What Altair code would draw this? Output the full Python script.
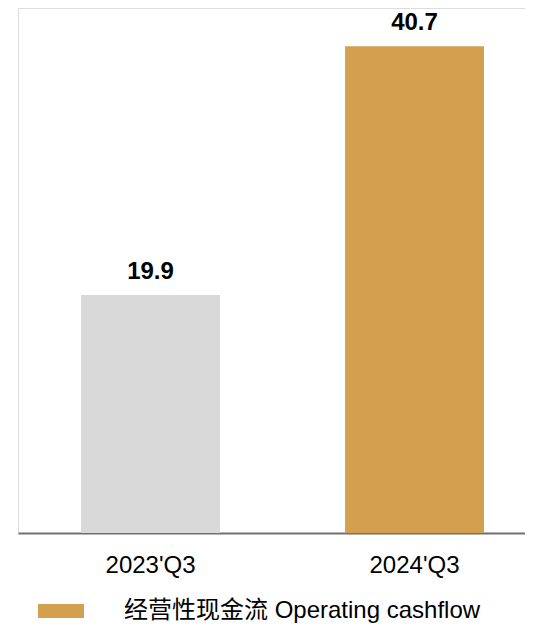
import altair as alt
import pandas as pd

categories = ["2023'Q3", "2024'Q3"]
values = [19.9, 40.7]
series = ["上年同期", "经营性现金流 Operating cashflow"]
legend_label = "经营性现金流 Operating cashflow"

df = pd.DataFrame({"period": categories, "value": values, "series": series})

FONT = "Liberation Sans, Arial, Noto Sans CJK SC"

x = alt.X(
    "period:N",
    sort=categories,
    title=None,
    scale=alt.Scale(paddingInner=0.4735, paddingOuter=0.197, align=0.606),
    axis=alt.Axis(
        labelAngle=0,
        labelFont=FONT,
        labelFontSize=24,
        labelColor="#000000",
        labelBaseline="alphabetic",
        labelPadding=39,
        ticks=False,
        tickSize=0,
        domainColor="#707070",
        domainWidth=2,
        grid=False,
    ),
)
y = alt.Y(
    "value:Q",
    title=None,
    scale=alt.Scale(domain=[0, 43.9], nice=False, zero=True),
    axis=None,
)

bars = alt.Chart(df).mark_bar().encode(
    x=x,
    y=y,
    color=alt.Color(
        "series:N",
        scale=alt.Scale(domain=series, range=["#d9d9d9", "#d3a04f"]),
        legend=alt.Legend(
            values=[legend_label],
            title=None,
            orient="none",
            legendX=20,
            legendY=580,
            padding=0,
            symbolType="M-1,-0.3043H1V0.3043H-1Z",
            symbolSize=2116,
            symbolStrokeWidth=0,
            symbolOpacity=1,
            labelFont=FONT,
            labelFontSize=24,
            labelColor="#000000",
            labelOffset=40,
            labelLimit=600,
        ),
    ),
)

labels = alt.Chart(df).mark_text(
    baseline="alphabetic",
    dy=-16,
    font=FONT,
    fontSize=24,
    fontWeight="bold",
    color="#000000",
).encode(x=x, y=y, text=alt.Text("value:Q", format=".1f"))

chart = (
    alt.layer(bars, labels)
    .properties(
        width=507,
        height=525,
        padding={"left": 10, "top": 0, "right": 0, "bottom": 93},
        autosize=alt.AutoSizeParams(type="none"),
    )
    .configure_view(strokeWidth=0, stroke="transparent")
    .configure(background="#ffffff")
)

chart.save("out.html", embed_options={"renderer": "svg", "actions": False})
